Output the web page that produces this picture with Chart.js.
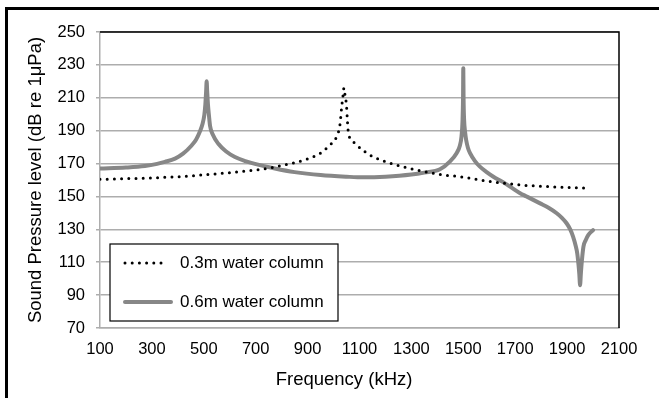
<!DOCTYPE html>
<html>
<head>
<meta charset="utf-8">
<script src="https://cdn.jsdelivr.net/npm/chart.js@4.4.0/dist/chart.umd.min.js"></script>
<style>
  body { margin: 0; background: #fff; }
  #wrap { position: relative; width: 659px; height: 398px; overflow: hidden; }
  #frame { position: absolute; left: 5px; top: 7px; width: 700px; height: 450px; border: 3px solid #000; pointer-events: none; }
</style>
</head>
<body>
<div id="wrap">
  <canvas id="myChart" width="659" height="398"></canvas>
  <div id="frame"></div>
</div>
<script>
'use strict';
const seriesNames = ['0.3m water column', '0.6m water column'];

// 0.3m water column (dotted)
const freq03 = [100, 200, 300, 400, 530, 620, 723, 781, 850, 896, 948, 986, 1012, 1025, 1031, 1037, 1040,
  1044, 1050, 1053, 1057, 1070, 1089, 1140, 1218, 1320, 1423, 1487, 1590, 1719, 1800, 1900, 1975];
const spl03 = [160.4, 160.8, 161.3, 162, 163.5, 164.8, 166.5, 168.2, 170.5, 172.6, 176.2, 181.3, 186.4, 194, 204, 212, 216,
  212, 205, 197, 189, 184.5, 181.3, 175.2, 170.2, 166.1, 163.1, 162, 159.4, 157, 156.2, 155.5, 155];

// 0.6m water column (solid grey)
const freq06 = [100, 200, 273, 320, 350, 389, 420, 453, 470, 485, 495, 502, 506, 509, 511, 513, 516, 520, 524, 535, 556,
  585, 620, 660, 697, 774, 850, 950, 1050, 1115, 1200, 1300, 1350, 1410, 1449, 1474, 1487, 1493, 1497, 1499,
  1500, 1501, 1503, 1507, 1511, 1518, 1526, 1545, 1564, 1590, 1616, 1650, 1680, 1719, 1744, 1796, 1830, 1860, 1880,
  1898, 1912, 1923, 1933, 1939, 1944, 1947, 1950, 1953, 1957, 1963, 1972, 1982, 2000];
const spl06 = [167, 167.6, 168.5, 169.8, 171, 173, 176, 181, 184.5, 189.5, 194, 199.5, 206, 214, 220, 214, 206, 199, 193, 187.5, 182,
  177.5, 174, 171.5, 169.8, 167, 164.8, 163, 162, 161.6, 162, 163.3, 164.5, 166.5, 171.3, 176.3, 181, 186.4, 196, 210,
  228, 210, 197, 189, 184.3, 179.5, 176.3, 171.5, 168.1, 164.8, 162, 159, 156, 152, 150, 145.8, 143, 139.8, 137,
  133.7, 130, 125.6, 120, 115.5, 108.5, 103, 96, 103, 111, 119.5, 123.5, 126.6, 129.5];

const yTicks = [70, 90, 110, 130, 150, 170, 190, 210, 230, 250];
const xTicks = [100, 300, 500, 700, 900, 1100, 1300, 1500, 1700, 1900, 2100];

function toPoints(xs, ys) {
  let pts = [];
  for (let i = 0; i < xs.length; i++) { pts.push({ x: xs[i], y: ys[i] }); }
  return pts;
}

const FONT = '"Liberation Sans", Arial, Helvetica, sans-serif';
const GRID = '#adadad';

// black top/right edge of the plot area and the legend box inside it
const plotExtras = {
  id: 'plotExtras',
  afterDatasetsDraw(chart) {
    const ctx = chart.ctx;
    const a = chart.chartArea;
    ctx.save();
    ctx.strokeStyle = '#000';
    ctx.lineWidth = 1.5;
    ctx.beginPath();
    ctx.moveTo(a.left, a.top);
    ctx.lineTo(a.right, a.top);
    ctx.lineTo(a.right, a.bottom);
    ctx.stroke();

    const ds = chart.data.datasets;
    const bx = a.left + 10, by = a.bottom - 84, bw = 228, bh = 77;
    ctx.fillStyle = '#fff';
    ctx.fillRect(bx, by, bw, bh);
    ctx.lineWidth = 1.2;
    ctx.strokeStyle = '#000';
    ctx.strokeRect(bx, by, bw, bh);

    const rows = [by + 19, by + 58];
    for (let i = 0; i < ds.length; i++) {
      ctx.beginPath();
      ctx.strokeStyle = ds[i].borderColor;
      ctx.lineWidth = ds[i].borderWidth;
      ctx.lineCap = ds[i].borderCapStyle || 'butt';
      ctx.setLineDash(ds[i].borderDash || []);
      ctx.moveTo(bx + 15, rows[i]);
      ctx.lineTo(bx + (i === 0 ? 57 : 61), rows[i]);
      ctx.stroke();
      ctx.setLineDash([]);
      ctx.fillStyle = '#000';
      ctx.font = '17px ' + FONT;
      ctx.textBaseline = 'middle';
      ctx.textAlign = 'left';
      ctx.fillText(ds[i].label, bx + 70, rows[i]);
    }
    ctx.restore();
  }
};

const ctx = document.getElementById('myChart').getContext('2d');
const myChart = new Chart(ctx, {
  type: 'line',
  data: {
    datasets: [{
      label: seriesNames[0],
      data: toPoints(freq03, spl03),
      borderColor: '#000',
      borderWidth: 3,
      borderDash: [0, 7.2],
      borderCapStyle: 'round',
      pointRadius: 0,
      cubicInterpolationMode: 'monotone',
      order: 0
    },
    {
      label: seriesNames[1],
      data: toPoints(freq06, spl06),
      borderColor: '#878787',
      borderWidth: 4,
      borderJoinStyle: 'round',
      borderCapStyle: 'round',
      pointRadius: 0,
      cubicInterpolationMode: 'monotone',
      order: 1
    }]
  },
  options: {
    responsive: false,
    animation: false,
    layout: { padding: { top: 32, right: 40, left: 0, bottom: 0 } },
    plugins: { legend: { display: false }, tooltip: { enabled: false } },
    scales: {
      x: {
        type: 'linear',
        min: 100,
        max: 2100,
        afterFit(scale) { scale.height = 70; },
        afterBuildTicks(scale) { scale.ticks = xTicks.map(v => ({ value: v })); },
        grid: { display: false, drawTicks: false, tickLength: 0 },
        border: { display: true, color: GRID, width: 1.5 },
        ticks: { color: '#000', padding: 12, font: { family: FONT, size: 16.5 }, callback: v => String(v) },
        title: { display: true, text: 'Frequency (kHz)\u00a0\u00a0\u00a0\u00a0\u00a0\u00a0', color: '#000', padding: { top: 0, bottom: 7 }, font: { family: FONT, size: 18.5 } }
      },
      y: {
        min: 70,
        max: 250,
        afterFit(scale) { scale.width = 100; },
        afterBuildTicks(scale) { scale.ticks = yTicks.map(v => ({ value: v })); },
        grid: { color: GRID, lineWidth: 1.5, tickLength: 4 },
        border: { display: true, color: GRID, width: 1.5 },
        ticks: { color: '#000', padding: 11, font: { family: FONT, size: 16.5 }, callback: v => String(v) },
        title: { display: true, text: 'Sound Pressure level (dB re 1μPa)', color: '#000', padding: { top: 25, bottom: 0 }, font: { family: FONT, size: 18.5 } }
      }
    }
  },
  plugins: [plotExtras]
});
</script>
</body>
</html>
